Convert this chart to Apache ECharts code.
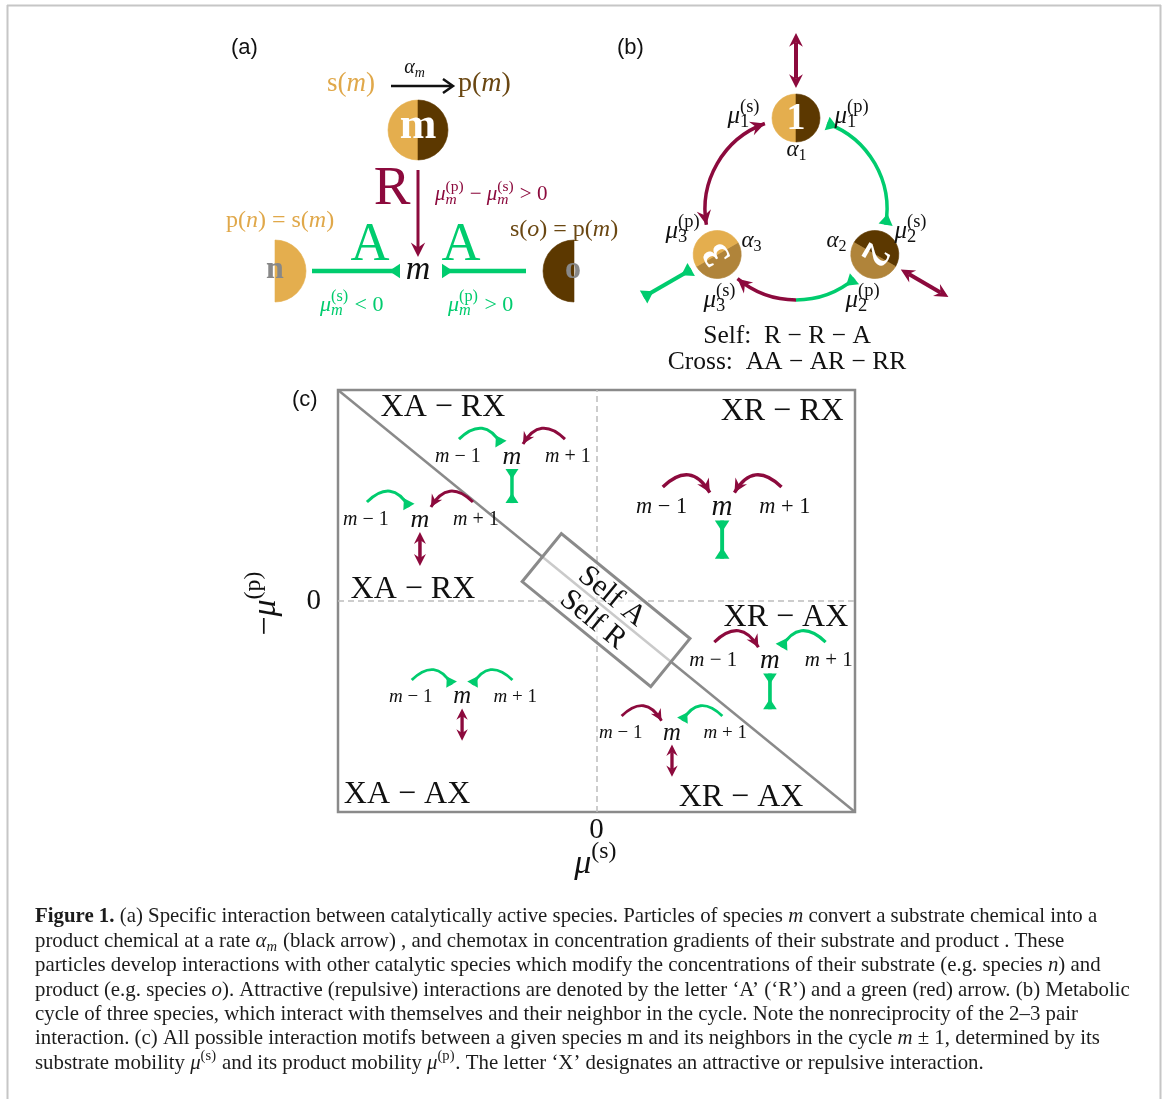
<!DOCTYPE html>
<html>
<head>
<meta charset="utf-8">
<script src="https://cdn.jsdelivr.net/npm/echarts@6/dist/echarts.min.js"></script>
<style>
html, body { margin: 0; padding: 0; background: #fff; }
#main { width: 1167px; height: 1099px; }
</style>
</head>
<body>
<div id="main"></div>
<script>
// panel (c): motifs in the (mu_s, -mu_p) plane
const axisTicks = [-1, 0, 1]
const diagonal = [[-1, 1], [1, -1]]
const quadrantNames = ['XA − RX', 'XR − RX', 'XA − RX', 'XR − AX', 'XA − AX', 'XR − AX']
const quadrantX = [-0.594, 0.718, -0.71, 0.733, -0.733, 0.559]
const quadrantY = [0.915, 0.9, 0.052, -0.081, -0.919, -0.934]
const motifX = [-0.327, -0.683, 0.486, 0.671, 0.292, -0.52]
const motifY = [0.682, 0.384, 0.445, -0.284, -0.626, -0.455]
const motifLeft = ['A', 'A', 'R', 'R', 'R', 'A']   // interaction with m-1
const motifRight = ['R', 'R', 'R', 'A', 'A', 'A']  // interaction with m+1
const motifSelf = ['A', 'R', 'A', 'A', 'R', 'R']
const selfBox = [0.037, -0.043]
const selfNames = ['Self A', 'Self R']
// panel (b): cycle of three species
const species = ['1', '2', '3']
const selfInteraction = ['R', 'R', 'A']

const RED = '#8c0a3d'
const GREEN = '#00cc6e'
const GOLD = '#e4ae4e'
const BROWN = '#5c3800'
const TAN = '#b0843a'
const GOLD_T = '#e0a84a'
const BROWN_T = '#6a4712'
const GRAY = '#8a8a8a'
const INK = '#111'
const SERIF = '"Liberation Serif", "DejaVu Serif", serif'
const SANS = '"Liberation Sans", Arial, sans-serif'
const D = Math.PI / 180

const mctx = document.createElement('canvas').getContext('2d')
function fnt(size, it, b) {
  return (it ? 'italic ' : '') + (b ? 'bold ' : '') + size + 'px ' + SERIF
}
function tw(t, f) {
  mctx.font = f
  return mctx.measureText(t).width
}
function txt(t, x, y, f, fill, align) {
  return {
    type: 'text', x: x, y: y, silent: true,
    style: { text: t, font: f, fill: fill, opacity: 1, textAlign: align || 'left', textVerticalAlign: 'middle', align: align || 'left', verticalAlign: 'middle' }
  }
}
// pieces: 'plain', {i:'italic'}, {b:'bold'}, {sup:'..', sub:'..'}
function layout(pieces, size, ratio) {
  const items = []
  const r = ratio || 0.7
  let w = 0
  pieces.forEach(p => {
    if (typeof p === 'string') p = { t: p }
    if (p.sup != null || p.sub != null) {
      const s = size * r
      let ws = 0
      if (p.sup != null) {
        const f = fnt(s)
        items.push([p.sup, w, -size * 0.36, f])
        ws = tw(p.sup, f)
      }
      if (p.sub != null) {
        const f = fnt(s, /[a-z]/.test(p.sub))
        items.push([p.sub, w, size * 0.26, f])
        ws = Math.max(ws, tw(p.sub, f))
      }
      w += ws + size * 0.04
    } else {
      const t = p.t != null ? p.t : p.i != null ? p.i : p.b
      const f = fnt(size, p.i != null, p.b != null)
      items.push([t, w, 0, f])
      w += tw(t, f)
    }
  })
  return { items, w }
}
function row(pieces, x, y, size, fill, align, ratio) {
  const l = layout(pieces, size, ratio)
  const x0 = align === 'center' ? x - l.w / 2 : align === 'right' ? x - l.w : x
  return l.items.map(it => txt(it[0], x0 + it[1], y + it[2], it[3], fill))
}

// arrow heads: red points forward, green sits with its base on the end point
function headRed(x, y, a, s) {
  const c = Math.cos(a), n = Math.sin(a), L = 12 * s, W = 6 * s, N = 4 * s
  const bx = x - c * L, by = y - n * L
  return {
    type: 'polygon', silent: true,
    shape: { points: [[x, y], [bx - n * W, by + c * W], [x - c * (L - N), y - n * (L - N)], [bx + n * W, by - c * W]] },
    style: { fill: RED }
  }
}
function headGreen(x, y, a, s) {
  const c = Math.cos(a), n = Math.sin(a), L = 10 * s, W = 6.5 * s
  return {
    type: 'polygon', silent: true,
    shape: { points: [[x - n * W, y + c * W], [x + n * W, y - c * W], [x - c * L, y - n * L]] },
    style: { fill: GREEN }
  }
}
function seg(x1, y1, x2, y2, color, lw) {
  return { type: 'line', silent: true, shape: { x1, y1, x2, y2 }, style: { stroke: color, lineWidth: lw } }
}
function bend(type, x1, y1, cx, cy, x2, y2, s) {
  const color = type === 'A' ? GREEN : RED
  const a = Math.atan2(y2 - cy, x2 - cx)
  return [
    { type: 'bezierCurve', silent: true, shape: { x1, y1, x2, y2, cpx1: cx, cpy1: cy }, style: { stroke: color, lineWidth: 3 * s, fill: 'none' } },
    type === 'A' ? headGreen(x2, y2, a, s) : headRed(x2, y2, a, s)
  ]
}
function selfArrow(type, x1, y1, x2, y2, s) {
  const a = Math.atan2(y2 - y1, x2 - x1)
  if (type === 'A') {
    return [seg(x1, y1, x2, y2, GREEN, 3.5 * s), headGreen(x2, y2, a, s), headGreen(x1, y1, a + Math.PI, s)]
  }
  const c = Math.cos(a), n = Math.sin(a), k = 8 * s
  return [seg(x1 + c * k, y1 + n * k, x2 - c * k, y2 - n * k, RED, 3.5 * s), headRed(x2, y2, a, s), headRed(x1, y1, a + Math.PI, s)]
}
function sector(cx, cy, r, side, fill) {
  const a = side === 'L' ? [Math.PI / 2, Math.PI * 1.5] : [-Math.PI / 2, Math.PI / 2]
  return {
    type: 'sector', silent: true,
    shape: { cx, cy, r, r0: 0, startAngle: a[0], endAngle: a[1], clockwise: true },
    style: { fill: fill, stroke: fill, lineWidth: 0.6 }
  }
}

// motif drawn around the position of m
const motifScale = [1, 1, 1.12, 1.05, 0.95, 0.95]
function renderMotif(params, api) {
  const i = params.dataIndex
  const p = api.coord([api.value(0), api.value(1)])
  const s = motifScale[i], X = p[0], Y = p[1]
  let ch = []
  ch = ch.concat(row([{ i: 'm' }, ' − 1'], X - 54 * s, Y, 20 * s, INK, 'center'))
  ch = ch.concat(row([{ i: 'm' }], X, Y, 26 * s, INK, 'center'))
  ch = ch.concat(row([{ i: 'm' }, ' + 1'], X + 56 * s, Y, 20 * s, INK, 'center'))
  ch = ch.concat(bend(motifLeft[i], X - 53 * s, Y - 18 * s, X - 28 * s, Y - 42 * s, X - 11 * s, Y - 13 * s, s))
  ch = ch.concat(bend(motifRight[i], X + 53 * s, Y - 18 * s, X + 28 * s, Y - 42 * s, X + 11 * s, Y - 13 * s, s))
  ch = ch.concat(selfArrow(motifSelf[i], X, Y + 12 * s, X, Y + 46 * s, s))
  return { type: 'group', children: ch }
}
function renderQuadrant(params, api) {
  const p = api.coord([api.value(0), api.value(1)])
  return txt(quadrantNames[params.dataIndex], p[0], p[1], fnt(32), INK, 'center')
}
function renderSelfBox(params, api) {
  const c = api.coord([api.value(0), api.value(1)])
  const a = api.coord(diagonal[0]), b = api.coord(diagonal[1])
  const ang = Math.atan2(b[1] - a[1], b[0] - a[0])
  return {
    type: 'group', x: c[0], y: c[1], rotation: -ang,
    children: [
      { type: 'rect', shape: { x: -83, y: -31, width: 166, height: 62 }, style: { fill: 'rgba(255,255,255,0.55)', stroke: GRAY, lineWidth: 3 } },
      txt(selfNames[0], -4, -14, fnt(30), INK, 'center'),
      txt(selfNames[1], -4, 16, fnt(30), INK, 'center')
    ]
  }
}

// ---- panel (a)
let gA = []
gA.push(txt('(a)', 231, 48, '22px ' + SANS, INK))
gA = gA.concat(row(['s(', { i: 'm' }, ')'], 327, 84, 27, GOLD_T, 'left'))
gA = gA.concat(row([{ i: 'α' }, { sub: 'm' }], 415, 68, 20, INK, 'center'))
gA.push(seg(391, 86, 452, 86, INK, 2.5))
gA.push({ type: 'polyline', silent: true, shape: { points: [[443, 79], [453, 86], [443, 93]] }, style: { stroke: INK, lineWidth: 2.5, fill: 'none' } })
gA = gA.concat(row(['p(', { i: 'm' }, ')'], 458, 84, 28, BROWN_T, 'left'))
gA.push(sector(418, 130, 30, 'L', GOLD), sector(418, 130, 30, 'R', BROWN))
gA.push(txt('m', 418, 127, 'bold 44px ' + SERIF, '#fff', 'center'))
gA.push(seg(418, 170, 418, 248, RED, 3), headRed(418, 257, Math.PI / 2, 1.2))
gA.push(txt('R', 392, 190, '55px ' + SERIF, RED, 'center'))
gA = gA.concat(row([{ i: 'μ' }, { sup: '(p)', sub: 'm' }, ' − ', { i: 'μ' }, { sup: '(s)', sub: 'm' }, ' > 0'], 435, 194, 21, RED, 'left', 0.74))
gA = gA.concat(row(['p(', { i: 'n' }, ') = s(', { i: 'm' }, ')'], 226, 221, 24, GOLD_T, 'left'))
gA = gA.concat(row(['s(', { i: 'o' }, ') = p(', { i: 'm' }, ')'], 510, 230, 24, BROWN_T, 'left'))
gA.push(sector(275, 271, 31, 'R', GOLD), txt('n', 275, 270, 'bold 32px ' + SERIF, '#888', 'center'))
gA.push(sector(574, 271, 31, 'L', BROWN), txt('o', 573, 270, 'bold 32px ' + SERIF, '#888', 'center'))
gA.push(seg(312, 271, 400, 271, GREEN, 4.5), headGreen(400, 271, 0, 1.1))
gA.push(seg(526, 271, 442, 271, GREEN, 4.5), headGreen(442, 271, Math.PI, 1.1))
gA.push(txt('m', 418, 270, 'italic 34px ' + SERIF, INK, 'center'))
gA.push(txt('A', 370, 246, '54px ' + SERIF, GREEN, 'center'), txt('A', 461, 246, '54px ' + SERIF, GREEN, 'center'))
gA = gA.concat(row([{ i: 'μ' }, { sup: '(s)', sub: 'm' }, ' < 0'], 320, 305, 22, GREEN, 'left', 0.74))
gA = gA.concat(row([{ i: 'μ' }, { sup: '(p)', sub: 'm' }, ' > 0'], 448, 305, 22, GREEN, 'left', 0.74))

// ---- panel (b)
const CX = 796, CY = 209, CR = 91, NR = 24
const nodeAng = [-90, 30, 150]
const nodeRot = [0, -2 * Math.PI / 3, 2 * Math.PI / 3]
const nodeFill = [[GOLD, BROWN], [BROWN, TAN], [TAN, GOLD]]
const pt = deg => [CX + CR * Math.cos(deg * D), CY + CR * Math.sin(deg * D)]
function arc(a0, a1, color) {
  return { type: 'arc', silent: true, shape: { cx: CX, cy: CY, r: CR, startAngle: a0 * D, endAngle: a1 * D, clockwise: true }, style: { stroke: color, lineWidth: 3.5, fill: 'none' } }
}
let gB = []
gB.push(txt('(b)', 617, 48, '22px ' + SANS, INK))
gB.push(arc(170, 250, RED), headRed(...pt(250), 340 * D, 1.2), headRed(...pt(170), 80 * D, 1.2))
gB.push(arc(290, 370, GREEN), headGreen(...pt(290), 200 * D, 1.1), headGreen(...pt(370), 100 * D, 1.1))
gB.push(arc(90, 130, RED), headRed(...pt(130), 220 * D, 1.2))
gB.push(arc(50, 90, GREEN), headGreen(...pt(50), -40 * D, 1.1))
species.forEach((name, j) => {
  const p = pt(nodeAng[j])
  const c = Math.cos(nodeAng[j] * D), s = Math.sin(nodeAng[j] * D)
  gB = gB.concat(selfArrow(selfInteraction[j], p[0] + c * 30, p[1] + s * 30, p[0] + c * 85, p[1] + s * 85, 1.15))
  gB.push({
    type: 'group', x: p[0], y: p[1], rotation: nodeRot[j],
    children: [sector(0, 0, NR, 'L', nodeFill[j][0]), sector(0, 0, NR, 'R', nodeFill[j][1]), txt(name, 0, 1, 'bold 38px ' + SERIF, '#fff', 'center')]
  })
})
gB = gB.concat(row([{ i: 'μ' }, { sup: '(s)', sub: '1' }], 744, 116, 25, INK, 'center', 0.74))
gB = gB.concat(row([{ i: 'μ' }, { sup: '(p)', sub: '1' }], 852, 116, 25, INK, 'center', 0.74))
gB = gB.concat(row([{ i: 'α' }, { sub: '1' }], 797, 150, 23, INK, 'center'))
gB = gB.concat(row([{ i: 'μ' }, { sup: '(p)', sub: '3' }], 683, 231, 25, INK, 'center', 0.74))
gB = gB.concat(row([{ i: 'α' }, { sub: '3' }], 752, 241, 23, INK, 'center'))
gB = gB.concat(row([{ i: 'α' }, { sub: '2' }], 837, 241, 23, INK, 'center'))
gB = gB.concat(row([{ i: 'μ' }, { sup: '(s)', sub: '2' }], 911, 231, 25, INK, 'center', 0.74))
gB = gB.concat(row([{ i: 'μ' }, { sup: '(s)', sub: '3' }], 720, 300, 25, INK, 'center', 0.74))
gB = gB.concat(row([{ i: 'μ' }, { sup: '(p)', sub: '2' }], 863, 300, 25, INK, 'center', 0.74))
gB = gB.concat(row(['Self:  R − R − A'], 787, 336, 25.5, INK, 'center'))
gB = gB.concat(row(['Cross:  AA − AR − RR'], 787, 362, 25.5, INK, 'center'))

// ---- panel (c) extras
let gC = []
gC.push(txt('(c)', 292, 400, '22px ' + SANS, INK))
gC = gC.concat(row([{ i: 'μ' }, { sup: '(s)' }], 596, 864, 34, INK, 'center'))
gC.push({ type: 'group', x: 266, y: 603, rotation: Math.PI / 2, children: row(['−', { i: 'μ' }, { sup: '(p)' }], 0, 0, 34, INK, 'center') })

// ---- caption
const caption = [
  [{ b: 'Figure 1.' }, ' (a) Specific interaction between catalytically active species. Particles of species ', { i: 'm' }, ' convert a substrate chemical into a'],
  ['product chemical at a rate ', { i: 'α' }, { sub: 'm' }, ' (black arrow) , and chemotax in concentration gradients of their substrate and product . These'],
  ['particles develop interactions with other catalytic species which modify the concentrations of their substrate (e.g. species ', { i: 'n' }, ') and'],
  ['product (e.g. species ', { i: 'o' }, '). Attractive (repulsive) interactions are denoted by the letter ‘A’ (‘R’) and a green (red) arrow. (b) Metabolic'],
  ['cycle of three species, which interact with themselves and their neighbor in the cycle. Note the nonreciprocity of the 2–3 pair'],
  ['interaction. (c) All possible interaction motifs between a given species m and its neighbors in the cycle ', { i: 'm' }, ' ± 1, determined by its'],
  ['substrate mobility ', { i: 'μ' }, { sup: '(s)' }, ' and its product mobility ', { i: 'μ' }, { sup: '(p)' }, '. The letter ‘X’ designates an attractive or repulsive interaction.']
]
const capSize = 100 * 1063 / layout(caption[0], 100).w
let gT = []
caption.forEach((line, k) => {
  gT = gT.concat(row(line, 35, 917 + 24.4 * k, capSize, '#1c1c1c', 'left'))
})

// page frame
const gF = [
  seg(7, 5.5, 1161, 5.5, '#c6c6c6', 2),
  seg(7.5, 5, 7.5, 1099, '#c6c6c6', 2),
  seg(1160.5, 5, 1160.5, 1099, '#c6c6c6', 2)
]

const elements = gF.concat(gA, gB, gC, gT)
elements.forEach(e => { e.z = 10 })

const chart = echarts.init(document.getElementById('main'))
chart.setOption({
  animation: false,
  backgroundColor: '#fff',
  grid: { left: 338, top: 390, width: 517, height: 422, show: true, borderColor: GRAY, borderWidth: 2.5, backgroundColor: 'transparent' },
  xAxis: {
    type: 'value', min: axisTicks[0], max: axisTicks[2], interval: 1,
    axisLine: { show: false }, axisTick: { show: false }, splitLine: { show: false },
    axisLabel: { formatter: v => (v === 0 ? '0' : ''), fontFamily: SERIF, fontSize: 29, color: INK, margin: 4 }
  },
  yAxis: {
    type: 'value', min: axisTicks[0], max: axisTicks[2], interval: 1,
    axisLine: { show: false }, axisTick: { show: false }, splitLine: { show: false },
    axisLabel: { formatter: v => (v === 0 ? '0' : ''), fontFamily: SERIF, fontSize: 29, color: INK, margin: 17 }
  },
  series: [
    {
      type: 'line', data: diagonal, symbol: 'none', silent: true, z: 3,
      lineStyle: { color: GRAY, width: 2.5 },
      markLine: {
        silent: true, symbol: 'none', label: { show: false },
        lineStyle: { type: [6, 4], color: '#bdbdbd', width: 1.5 },
        data: [{ xAxis: 0 }, { yAxis: 0 }]
      }
    },
    {
      type: 'custom', coordinateSystem: 'cartesian2d', silent: true, z: 4, clip: false,
      data: quadrantX.map((x, i) => [x, quadrantY[i]]),
      renderItem: renderQuadrant
    },
    {
      type: 'custom', coordinateSystem: 'cartesian2d', silent: true, z: 5, clip: false,
      data: motifX.map((x, i) => [x, motifY[i]]),
      renderItem: renderMotif
    },
    {
      type: 'custom', coordinateSystem: 'cartesian2d', silent: true, z: 6, clip: false,
      data: [selfBox],
      renderItem: renderSelfBox
    }
  ],
  graphic: { elements: elements }
})
</script>
</body>
</html>
